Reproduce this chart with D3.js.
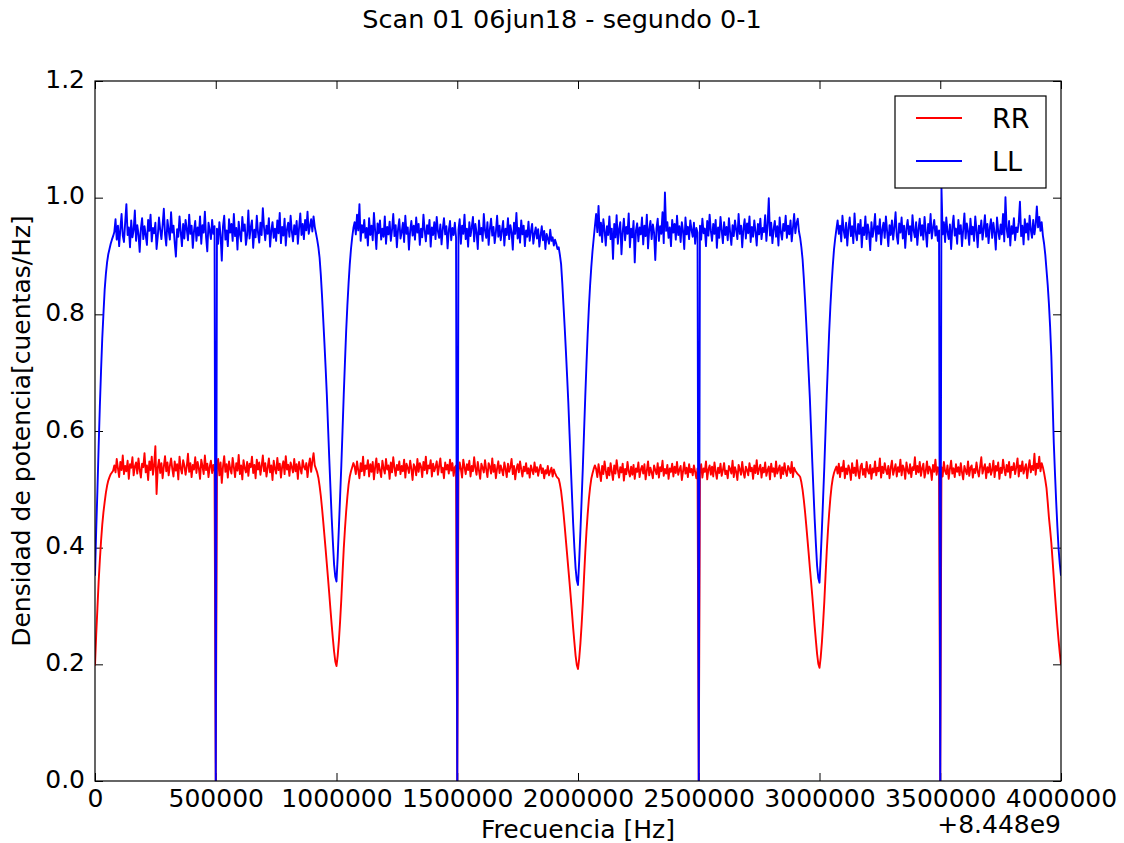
<!DOCTYPE html>
<html>
<head>
<meta charset="utf-8">
<script src="https://cdn.jsdelivr.net/npm/d3@7"></script>
<style>
  html, body { margin: 0; padding: 0; background: #fff; }
  svg { display: block; }
  text { font-family: "DejaVu Sans", sans-serif; fill: #000; }
</style>
</head>
<body>
<svg id="chart" width="1124" height="843"></svg>
<script>
// Channel spacing of the spectrum (Hz) and frequency offset shown on the axis
const channelStep = 5000;
const freqOffset = 8.448e9;

const xTicks = [0, 500000, 1000000, 1500000, 2000000, 2500000, 3000000, 3500000, 4000000];
const yTicks = [0.0, 0.2, 0.4, 0.6, 0.8, 1.0, 1.2];
const seriesNames = ["RR", "LL"];
const seriesColors = ["#ff0000", "#0000ff"];

// Power spectral density of the RR polarisation, one value per channel (0 .. 4 MHz)
const RR = [
  .198,.251,.296,.341,.378,.411,.439,.461,.478,.494,.506,.515,.521,.526,.529,.532,
  .541,.529,.552,.536,.521,.547,.533,.558,.526,.540,
  .531,.549,.518,.543,.537,.555,.524,.539,.546,.527,
  .553,.534,.520,.544,.538,.562,.529,.541,.516,.548,
  .533,.556,.525,.542,.574,.492,.537,.551,.528,.545,
  .519,.539,.557,.531,.546,.524,.540,.553,.535,.522,
  .548,.532,.543,.517,.556,.536,.527,.550,.541,.525,
  .539,.561,.530,.545,.521,.542,.534,.555,.528,.547,
  .536,.518,.551,.540,.526,.558,.533,.544,.521,.539,
  .549,.528,.542,.531,
  0,
  .537,.552,.524,.546,.511,.539,.557,.530,.543,.520,
  .548,.535,.527,.554,.538,.521,.545,.532,.559,.526,
  .541,.517,.550,.536,.529,.547,.523,.544,.538,.556,
  .528,.542,.519,.551,.534,.546,.525,.540,.558,.531,
  .545,.522,.537,.553,.529,.541,.516,.549,.535,.527,
  .554,.533,.544,.520,.539,.548,.526,.557,.534,.542,
  .523,.546,.538,.529,.552,.531,.543,.518,.547,.536,
  .527,.550,.539,.534,.545,.521,.541,.553,.530,.548,
  .562,.541,.535,
  .529,.520,.506,.489,.468,.445,.421,.397,.372,.347,.321,.294,.268,.244,.222,.205,
  .197,.215,.241,.274,.312,.356,.398,.432,.462,.487,.508,.522,.531,.538,.545,
  .539,.526,.548,.533,.519,.545,.531,.556,.524,.541,
  .535,.550,.522,.543,.530,.547,.517,.538,.553,.528,
  .544,.532,.521,.549,.536,.527,.552,.534,.541,.518,
  .546,.529,.555,.537,.523,.542,.533,.548,.526,.540,
  .531,.551,.520,.544,.537,.528,.549,.535,.516,.543,
  .538,.524,.552,.530,.545,.539,.521,.547,.533,.556,
  .527,.541,.536,.550,.522,.544,.531,.538,.548,.525,
  .540,.553,.529,.537,.519,.546,.534,.542,.527,.551,
  .532,.545,.523,.538,.541,
  0,
  .529,.546,.535,.520,.551,.538,.526,.543,.533,.549,
  .522,.540,.531,.555,.536,.525,.547,.532,.518,.544,
  .537,.529,.550,.534,.521,.545,.539,.527,.553,.530,
  .542,.519,.536,.548,.528,.541,.533,.524,.546,.535,
  .521,.544,.530,.538,.552,.526,.540,.517,.535,.543,
  .529,.548,.534,.522,.539,.531,.545,.527,.536,.520,
  .541,.533,.526,.546,.530,.538,.523,.535,.542,.528,
  .536,.519,.533,.527,.540,.524,.531,.537,.522,.534,
  .528,.523,.520,
  .518,.509,.497,.479,.459,.436,.412,.388,.364,.340,.315,.289,.262,.238,.215,.199,
  .192,.210,.236,.268,.305,.349,.391,.427,.457,.483,.503,.518,.527,.535,.541,
  .535,.521,.543,.529,.514,.540,.526,.548,.532,.519,
  .537,.524,.545,.530,.516,.541,.527,.550,.533,.520,
  .538,.529,.544,.515,.535,.526,.547,.531,.522,.539,
  .525,.542,.518,.536,.530,.546,.521,.534,.540,.527,
  .543,.517,.532,.548,.524,.537,.529,.519,.541,.533,
  .526,.545,.520,.538,.531,.549,.523,.535,.527,.542,
  .518,.536,.530,.544,.522,.539,.528,.547,.525,.534,
  .540,.516,.531,.546,.527,.537,.521,.543,.529,.535,
  .524,.541,.530,.519,.536,
  0,
  .527,.543,.520,.536,.530,.548,.517,.534,.541,.525,
  .539,.522,.546,.531,.518,.537,.528,.544,.523,.533,
  .545,.526,.532,.519,.540,.535,.527,.549,.521,.538,
  .530,.516,.542,.534,.525,.547,.529,.520,.539,.533,
  .524,.545,.531,.537,.518,.541,.528,.550,.526,.535,
  .542,.520,.537,.529,.546,.523,.533,.539,.517,.544,
  .530,.536,.522,.548,.527,.534,.541,.519,.538,.526,
  .545,.531,.523,.540,.535,.528,.547,.521,.537,.532,
  .529,.526,.524,
  .521,.512,.499,.482,.462,.439,.415,.391,.366,.342,.318,.292,.265,.241,.218,.201,
  .194,.212,.238,.271,.308,.352,.394,.429,.459,.485,.505,.519,.528,.534,.539,
  .527,.544,.521,.538,.531,.549,.519,.536,.526,.541,
  .533,.516,.545,.528,.537,.523,.550,.530,.519,.539,
  .544,.525,.535,.521,.547,.532,.527,.542,.518,.536,
  .529,.548,.524,.537,.531,.553,.520,.539,.528,.545,
  .533,.526,.540,.519,.537,.549,.525,.534,.543,.522,
  .538,.530,.551,.524,.541,.535,.518,.546,.532,.527,
  .543,.521,.538,.533,.555,.526,.540,.529,.547,.523,
  .536,.544,.520,.531,.548,.527,.539,.534,.516,.542,
  .530,.551,.525,.538,.533,
  0,
  .538,.522,.547,.531,.526,.541,.518,.535,.549,.527,
  .536,.521,.543,.530,.538,.524,.545,.529,.517,.540,
  .532,.526,.548,.523,.537,.541,.520,.535,.528,.546,
  .531,.522,.539,.555,.527,.536,.543,.519,.538,.529,
  .544,.525,.533,.549,.521,.540,.532,.546,.518,.537,
  .528,.551,.535,.524,.542,.530,.547,.520,.539,.533,
  .545,.526,.538,.553,.522,.541,.531,.548,.527,.536,
  .543,.519,.537,.550,.529,.540,.533,.561,.525,.544,
  .536,.556,.531,.545,
  .538,.528,.516,.502,.478,.452,.431,.408,.379,.349,.320,.292,.265,.241,.219,.200
];

// Power spectral density of the LL polarisation, one value per channel (0 .. 4 MHz)
const LL = [
  .352,.431,.498,.572,.641,.703,.758,.801,.842,.869,.889,.903,.912,.921,.928,.934,
  .941,.963,.928,.952,.917,.946,.972,.935,.924,.958,
  .989,.936,.949,.915,.961,.932,.944,.978,.926,.953,
  .938,.907,.947,.965,.929,.951,.936,.919,.962,.943,
  .971,.925,.948,.939,.957,.912,.934,.966,.945,.929,
  .953,.981,.937,.918,.962,.944,.928,.975,.940,.952,
  .923,.899,.946,.933,.968,.941,.917,.955,.930,.962,
  .946,.927,.971,.938,.952,.914,.943,.960,.926,.949,
  .935,.968,.921,.953,.940,.976,.932,.908,.957,.944,
  .929,.962,.938,.951,
  0,
  .947,.921,.958,.936,.892,.951,.969,.928,.944,.917,
  .963,.940,.955,.926,.972,.934,.948,.911,.959,.937,
  .925,.967,.943,.954,.919,.936,.978,.930,.949,.961,
  .914,.945,.932,.969,.940,.923,.957,.936,.982,.948,
  .927,.952,.938,.965,.916,.943,.958,.931,.947,.926,
  .961,.939,.974,.922,.950,.935,.964,.918,.946,.957,
  .933,.969,.942,.925,.953,.937,.960,.921,.948,.973,
  .936,.955,.929,.962,.944,.976,.938,.951,.963,.942,
  .968,.950,.939,
  .928,.915,.897,.868,.832,.792,.751,.708,.662,.607,.553,.502,.452,.410,.371,.350,
  .342,.385,.436,.488,.541,.601,.662,.718,.771,.815,.853,.886,.912,.932,.948,
  .958,.937,.971,.944,.989,.926,.953,.940,.962,.931,
  .948,.918,.965,.936,.952,.927,.974,.943,.912,.956,
  .939,.961,.928,.947,.933,.968,.921,.950,.937,.959,
  .926,.945,.972,.934,.953,.915,.946,.963,.930,.941,
  .957,.924,.969,.938,.949,.911,.943,.960,.935,.952,
  .928,.966,.940,.955,.919,.947,.932,.971,.944,.925,
  .953,.938,.962,.916,.949,.936,.958,.929,.967,.942,
  .931,.954,.920,.946,.965,.937,.951,.913,.944,.960,
  .927,.948,.936,.957,.932,
  0,
  .945,.963,.921,.952,.938,.971,.929,.947,.916,.958,
  .934,.949,.967,.925,.955,.940,.912,.961,.937,.948,
  .926,.972,.943,.931,.958,.919,.946,.964,.935,.950,
  .922,.941,.969,.933,.952,.927,.944,.960,.918,.947,
  .936,.965,.929,.953,.941,.911,.957,.938,.974,.930,
  .948,.923,.961,.937,.952,.917,.944,.933,.959,.926,
  .942,.955,.921,.938,.949,.930,.946,.916,.935,.951,
  .927,.943,.912,.938,.930,.921,.945,.926,.932,.918,
  .928,.921,.912,
  .915,.902,.886,.853,.815,.777,.736,.693,.648,.595,.542,.491,.441,.400,.365,.344,
  .336,.378,.428,.482,.537,.598,.658,.714,.766,.811,.849,.881,.908,.930,.951,
  .972,.941,.986,.935,.957,.924,.963,.944,.918,.951,
  .936,.968,.929,.947,.895,.955,.932,.970,.921,.946,
  .958,.903,.941,.964,.927,.950,.938,.973,.915,.947,
  .932,.960,.889,.944,.956,.925,.949,.937,.966,.920,
  .952,.934,.971,.913,.946,.960,.929,.954,.940,.893,
  .947,.964,.926,.951,.938,.975,.922,1.009,.943,.958,
  .931,.949,.917,.962,.940,.955,.928,.969,.936,.951,
  .924,.958,.943,.912,.966,.937,.950,.929,.961,.945,
  .933,.957,.921,.948,.940,
  0,
  .952,.928,.964,.939,.947,.917,.960,.935,.971,.943,
  .926,.955,.938,.962,.914,.949,.931,.967,.944,.922,
  .958,.936,.950,.927,.965,.940,.919,.953,.934,.961,
  .945,.929,.972,.938,.952,.915,.947,.963,.930,.956,
  .939,.968,.924,.950,.933,.961,.942,.918,.955,.937,
  .964,.929,.948,.941,.970,.926,.953,.999,.935,.957,
  .922,.946,.960,.933,.951,.918,.966,.940,.928,.955,
  .943,.969,.931,.952,.937,.961,.925,.948,.972,.939,
  .956,.964,.942,
  .931,.915,.894,.862,.826,.786,.744,.701,.657,.603,.548,.498,.449,.407,.369,.348,
  .340,.383,.432,.485,.539,.600,.661,.716,.769,.813,.851,.883,.911,.930,.946,
  .961,.938,.952,.925,.969,.944,.931,.957,.918,.948,
  .966,.934,.951,.922,.973,.940,.927,.955,.938,.962,
  .915,.949,.936,.968,.929,.954,.941,.910,.958,.933,
  .947,.972,.926,.951,.938,.963,.920,.945,.957,.931,
  .968,.942,.917,.953,.936,.961,.928,.949,.975,.934,
  .921,.956,.940,.966,.930,.952,.914,.947,.962,.937,
  .951,.926,.970,.943,.932,.958,.919,.946,.964,.935,
  .953,.928,.967,.941,.916,.955,.939,.972,.930,.948,
  .962,.935,.951,.926,.944,
  0,
  1.018,.937,.958,.924,.966,.941,.929,.954,.912,.950,
  .969,.935,.947,.921,.962,.938,.953,.917,.945,.973,
  .930,.956,.942,.919,.964,.937,.950,.926,.968,.944,
  .915,.952,.939,.961,.928,.947,.970,.933,.955,.922,
  .948,.963,.931,.957,.940,.911,.966,.943,.929,.954,
  .937,.972,.925,1.001,.946,.932,.960,.918,.951,.938,
  .965,.927,.949,.941,.958,.993,.934,.952,.920,.963,
  .940,.956,.928,.969,.945,.931,.962,.937,.953,.985,
  .949,.967,.943,.958,
  .935,.921,.902,.876,.850,.818,.778,.728,.655,.581,.528,.479,.436,.398,.372,.352
];

const seriesValues = [RR, LL];
const freqs = d3.range(LL.length).map(i => i * channelStep);
if (RR.length !== LL.length) throw new Error(`series length mismatch: RR ${RR.length}, LL ${LL.length}`);

const svg = d3.select("#chart");
const W = 1124, H = 843;
const margin = { left: 95, right: W - 1061, top: 81, bottom: H - 781 };

const x = d3.scaleLinear().domain([0, 4000000]).range([margin.left, W - margin.right]);
const y = d3.scaleLinear().domain([0, 1.2]).range([H - margin.bottom, margin.top]);

const tickFont = "25px";

// Axes (ticks point into the plot on all four sides)
const gx = svg.append("g")
  .attr("transform", `translate(0,${H - margin.bottom})`)
  .call(d3.axisBottom(x).tickValues(xTicks).tickFormat(d3.format("d"))
        .tickSizeInner(-8).tickSizeOuter(0).tickPadding(8));
const gxTop = svg.append("g")
  .attr("transform", `translate(0,${margin.top})`)
  .call(d3.axisTop(x).tickValues(xTicks).tickFormat("")
        .tickSizeInner(-8).tickSizeOuter(0));
const gy = svg.append("g")
  .attr("transform", `translate(${margin.left},0)`)
  .call(d3.axisLeft(y).tickValues(yTicks).tickFormat(d3.format(".1f"))
        .tickSizeInner(-8).tickSizeOuter(0).tickPadding(10));
const gyRight = svg.append("g")
  .attr("transform", `translate(${W - margin.right},0)`)
  .call(d3.axisRight(y).tickValues(yTicks).tickFormat("")
        .tickSizeInner(-8).tickSizeOuter(0));

[gx, gxTop, gy, gyRight].forEach(g => {
  g.select(".domain").remove();
  g.selectAll(".tick line").attr("stroke", "#000").attr("stroke-width", 1);
  g.selectAll(".tick text").style("font-size", tickFont).attr("fill", "#000")
    .style("font-family", "DejaVu Sans");
});
gy.selectAll(".tick text").attr("dy", "0.25em");

// Spectra
const clipId = "plot-clip";
svg.append("clipPath").attr("id", clipId).append("rect")
  .attr("x", margin.left).attr("y", margin.top)
  .attr("width", W - margin.left - margin.right)
  .attr("height", H - margin.top - margin.bottom);

const line = d3.line().x((d, i) => x(freqs[i])).y(d => y(d));
const plot = svg.append("g").attr("clip-path", `url(#${clipId})`);
seriesValues.forEach((vals, k) => {
  plot.append("path")
    .datum(vals)
    .attr("fill", "none")
    .attr("stroke", seriesColors[k])
    .attr("stroke-width", 1.9)
    .attr("stroke-linejoin", "round")
    .attr("d", line);
});

// Frame
svg.append("rect")
  .attr("x", margin.left).attr("y", margin.top)
  .attr("width", W - margin.left - margin.right)
  .attr("height", H - margin.top - margin.bottom)
  .attr("fill", "none").attr("stroke", "#000").attr("stroke-width", 1.2);

// Title and axis labels
svg.append("text").attr("x", W / 2).attr("y", 28)
  .attr("text-anchor", "middle").style("font-size", "25.5px")
  .text("Scan 01 06jun18 - segundo 0-1");

svg.append("text").attr("x", (margin.left + W - margin.right) / 2).attr("y", 838)
  .attr("text-anchor", "middle").style("font-size", "25px")
  .text("Frecuencia [Hz]");

svg.append("text").attr("x", W - margin.right).attr("y", 833)
  .attr("text-anchor", "end").style("font-size", "25px")
  .text("+" + d3.format(".4")(freqOffset).replace("e+", "e"));

svg.append("text")
  .attr("transform", `translate(30,${(margin.top + H - margin.bottom) / 2}) rotate(-90)`)
  .attr("text-anchor", "middle").style("font-size", "25px")
  .text("Densidad de potencia[cuentas/Hz]");

// Legend
const legend = svg.append("g").attr("transform", "translate(895,96)");
legend.append("rect").attr("width", 151).attr("height", 92)
  .attr("fill", "#fff").attr("stroke", "#000").attr("stroke-width", 1.2);
seriesNames.forEach((name, k) => {
  const ly = 22 + k * 43;
  legend.append("line").attr("x1", 21).attr("x2", 67).attr("y1", ly).attr("y2", ly)
    .attr("stroke", seriesColors[k]).attr("stroke-width", 1.9);
  legend.append("text").attr("x", 97).attr("y", ly).attr("dy", "0.36em")
    .style("font-size", "27px").text(name);
});
</script>
</body>
</html>
